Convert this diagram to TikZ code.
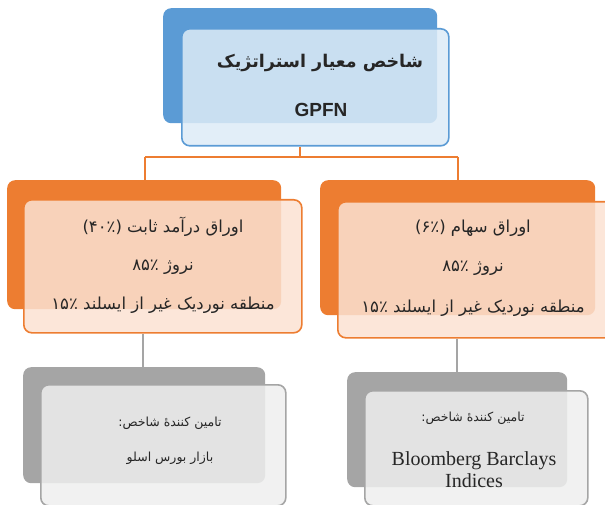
\documentclass[tikz,border=0pt]{standalone}
\usepackage{fontspec}
\setmainfont{Liberation Serif}
\setsansfont{Liberation Sans}
\newfontfamily\fa[Script=Arabic]{DejaVu Sans}
\TeXXeTstate=1

\definecolor{bluedark}{HTML}{5B9BD5}
\definecolor{bluelight}{HTML}{DDEBF7}
\definecolor{orangedark}{HTML}{ED7D31}
\definecolor{orangelight}{HTML}{FBE2D2}
\definecolor{greydark}{HTML}{A5A5A5}
\definecolor{greylight}{HTML}{EEEFEE}

\tikzset{
  box/.style={rectangle, rounded corners=8pt, inner sep=0pt, anchor=north west},
  backbox/.style={box, fill=#1},
  frontbox/.style={box, draw=#1, line width=1.6pt, fill opacity=0.85},
  txt/.style={inner sep=0pt, anchor=center, text=black!85},
}

\begin{document}
\begin{tikzpicture}[x=1pt, y=-1pt]
  \useasboundingbox (0,0) rectangle (605,505);

  % top: strategic benchmark
  \node[backbox=bluedark, minimum width=274pt, minimum height=115pt] (topback) at (163,8) {};
  \node[frontbox=bluedark, fill=bluelight, minimum width=267pt, minimum height=117pt] (topfront) at (181,28) {};
  \node[txt, font=\fa\bfseries\fontsize{17.5}{20}\selectfont] (toptitle) at (320,63) {\beginR شاخص معیار استراتژیک\endR};
  \node[txt, font=\sffamily\bfseries\fontsize{19}{22}\selectfont] (topcode) at (321,110) {GPFN};

  % second row: asset classes
  \node[backbox=orangedark, minimum width=274pt, minimum height=129pt] (leftback) at (7,180) {};
  \node[frontbox=orangedark, fill=orangelight, minimum width=278pt, minimum height=133pt] (leftfront) at (23,199) {};
  \node[backbox=orangedark, minimum width=275pt, minimum height=135pt] (rightback) at (320,180) {};
  \node[frontbox=orangedark, fill=orangelight, minimum width=278pt, minimum height=136pt] (rightfront) at (337,201) {};

  \begin{scope}[every node/.style={txt, font=\fa\fontsize{16.5}{19}\selectfont}]
    \node (l1) at (163,227) {\beginR اوراق درآمد ثابت (۴۰٪)\endR};
    \node (l2) at (163,267) {\beginR نروژ ۸۵٪\endR};
    \node (l3) at (163,305) {\beginR منطقه نوردیک غیر از ایسلند ۱۵٪\endR};
    \node (r1) at (473,228) {\beginR اوراق سهام (۶٪)\endR};
    \node (r2) at (473,268) {\beginR نروژ ۸۵٪\endR};
    \node (r3) at (473,308) {\beginR منطقه نوردیک غیر از ایسلند ۱۵٪\endR};
  \end{scope}

  % third row: index providers
  \node[backbox=greydark, minimum width=242pt, minimum height=116pt] (lpback) at (23,367) {};
  \node[frontbox=greydark, fill=greylight, minimum width=245pt, minimum height=121pt] (lpfront) at (40,384) {};
  \node[backbox=greydark, minimum width=220pt, minimum height=115pt] (rpback) at (347,372) {};
  \node[frontbox=greydark, fill=greylight, minimum width=223pt, minimum height=115pt] (rpfront) at (364,390) {};

  \begin{scope}[every node/.style={txt, font=\fa\fontsize{12.5}{15}\selectfont}]
    \node (lp1) at (170,423) {\beginR تامین کنندهٔ شاخص:\endR};
    \node (lp2) at (170,458) {\beginR بازار بورس اسلو\endR};
    \node (rp1) at (473,418) {\beginR تامین کنندهٔ شاخص:\endR};
  \end{scope}
  \node[txt, font=\fontsize{20}{22}\selectfont, align=center] (rp2) at (474,470) {Bloomberg Barclays\\Indices};

  % connectors
  \coordinate (junc) at (300,157);
  \coordinate (lbranch) at (145,157);
  \coordinate (rbranch) at (458,157);
  \draw[orangedark, line width=1.6pt] (topfront.south -| junc) -- (junc);
  \draw[orangedark, line width=1.6pt] (lbranch) -- (rbranch);
  \draw[orangedark, line width=1.6pt] (lbranch) -- (lbranch |- leftback.north);
  \draw[orangedark, line width=1.6pt] (rbranch) -- (rbranch |- rightback.north);
  \draw[greydark, line width=2.5pt] (leftfront.south -| 143,0) -- (143,0 |- lpback.north);
  \draw[greydark, line width=2.5pt] (rightfront.south -| 457,0) -- (457,0 |- rpback.north);
\end{tikzpicture}
\end{document}
